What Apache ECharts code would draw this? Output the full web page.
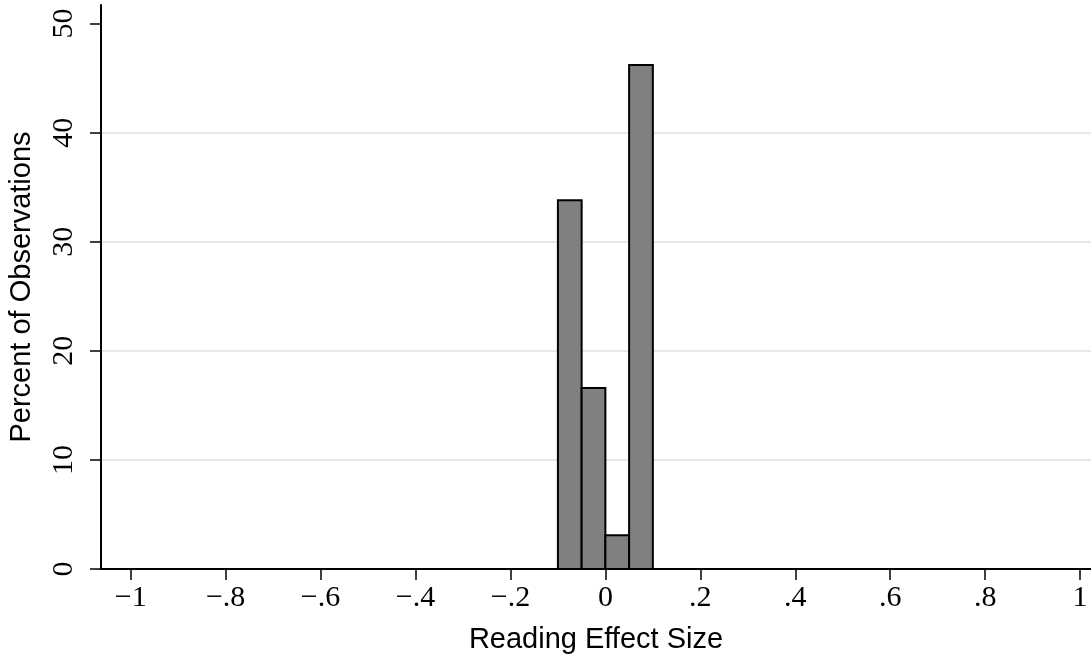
<!DOCTYPE html>
<html>
<head>
<meta charset="utf-8">
<script src="https://cdn.jsdelivr.net/npm/echarts@6/dist/echarts.min.js"></script>
<style>
html,body{margin:0;padding:0;background:#fff;}
#chart{width:1091px;height:660px;}
</style>
</head>
<body>
<div id="chart"></div>
<script>
// Histogram bins (Reading Effect Size) and percent of observations
var binStarts = [-0.1, -0.05, 0, 0.05];
var binEnds   = [-0.05, 0, 0.05, 0.1];
var percents  = [33.8, 16.6, 3.1, 46.2];

// Tick labels
var xTickValues = [-1, -0.8, -0.6, -0.4, -0.2, 0, 0.2, 0.4, 0.6, 0.8, 1];
var xTickLabels = ['\u22121', '\u2212.8', '\u2212.6', '\u2212.4', '\u2212.2', '0', '.2', '.4', '.6', '.8', '1'];
var yTickValues = [0, 10, 20, 30, 40, 50];
var yTickLabels = ['0', '10', '20', '30', '40', '50'];

var data = binStarts.map(function (s, i) { return [s, binEnds[i], percents[i]]; });

var chart = echarts.init(document.getElementById('chart'), null, {renderer: 'canvas'});
var serif = 'Liberation Serif';
var sans = 'Liberation Sans';

chart.setOption({
  animation: false,
  backgroundColor: '#ffffff',
  grid: {left: 101, right: 0, top: 5, bottom: 91, containLabel: false, outerBoundsMode: 'none'},
  xAxis: {
    type: 'value',
    min: -1.0625,
    max: 1.023,
    name: 'Reading Effect Size',
    nameLocation: 'middle',
    nameGap: 56,
    nameTextStyle: {fontFamily: sans, fontSize: 29, color: '#000'},
    axisLine: {show: true, onZero: false, lineStyle: {color: '#000', width: 2}},
    axisTick: {show: true, customValues: xTickValues, length: 11, lineStyle: {color: '#000', width: 1.5}},
    axisLabel: {
      customValues: xTickValues,
      margin: 14,
      fontFamily: serif, fontSize: 30, color: '#000',
      formatter: function (v) {
        for (var i = 0; i < xTickValues.length; i++) {
          if (Math.abs(xTickValues[i] - v) < 1e-9) return xTickLabels[i];
        }
        return '';
      }
    },
    splitLine: {show: false}
  },
  yAxis: {
    type: 'value',
    min: 0,
    max: 51.7,
    interval: 10,
    name: 'Percent of Observations',
    nameLocation: 'middle',
    nameGap: 65,
    nameRotate: 90,
    nameTextStyle: {fontFamily: sans, fontSize: 29, color: '#000'},
    axisLine: {show: true, onZero: false, lineStyle: {color: '#000', width: 2}},
    axisTick: {show: true, customValues: yTickValues, length: 11, lineStyle: {color: '#000', width: 1.5}},
    axisLabel: {
      customValues: yTickValues,
      rotate: 90,
      margin: 22,
      fontFamily: serif, fontSize: 30, color: '#000',
      formatter: function (v) {
        for (var i = 0; i < yTickValues.length; i++) {
          if (Math.abs(yTickValues[i] - v) < 1e-9) return yTickLabels[i];
        }
        return '';
      }
    },
    splitLine: {show: true, showMinLine: false, showMaxLine: false, lineStyle: {color: '#e8e8e8', width: 2}}
  },
  series: [{
    type: 'custom',
    data: data,
    encode: {x: [0, 1], y: 2},
    renderItem: function (params, api) {
      var x0 = api.value(0), x1 = api.value(1), y = api.value(2);
      var pTop = api.coord([x0, y]);
      var pBot = api.coord([x1, 0]);
      return {
        type: 'rect',
        shape: {x: pTop[0], y: pTop[1], width: pBot[0] - pTop[0], height: pBot[1] - pTop[1]},
        style: {fill: '#808080', stroke: '#000', lineWidth: 2}
      };
    }
  }]
});
</script>
</body>
</html>
